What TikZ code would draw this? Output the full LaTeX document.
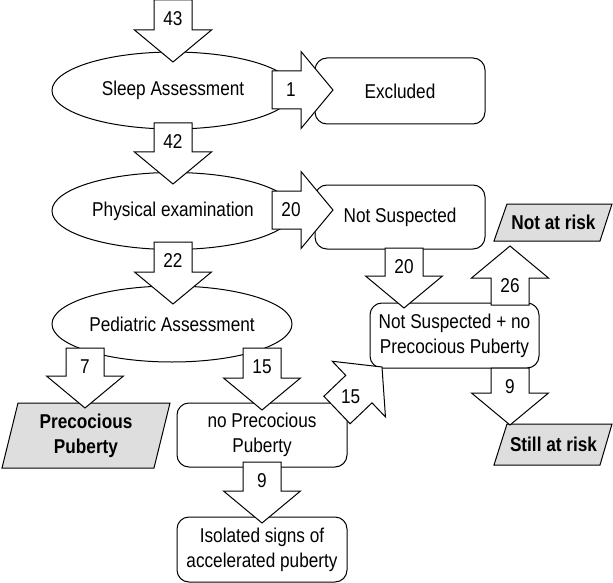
\documentclass[tikz,border=0pt]{standalone}
\usepackage{fontspec}
\setmainfont{Liberation Sans}[FakeStretch=0.86]
\usetikzlibrary{shapes.geometric,calc}
\definecolor{boxgray}{RGB}{222,222,222}
\tikzset{
  txt/.style={font=\fontsize{20}{25}\selectfont, align=center, inner sep=0pt},
  oval/.style={draw, ellipse, line width=1pt, fill=white, minimum width=242pt, minimum height=77pt, inner sep=0pt, font=\fontsize{20}{25}\selectfont},
  rbox/.style={draw, rounded corners=12pt, line width=1pt, fill=white, minimum width=170pt, minimum height=65pt, align=center, inner sep=0pt, font=\fontsize{20}{25}\selectfont},
  outcome/.style={draw, line width=1pt, fill=boxgray, line join=miter},
  outtxt/.style={font=\bfseries\fontsize{20}{25}\selectfont, align=center, inner sep=0pt},
  barrow/.style={draw, line width=1pt, fill=white, line join=miter},
  num/.style={font=\fontsize{20}{24}\selectfont, inner sep=0pt}
}
% #1 start, #2 tip, #3 name prefix, #4 label
\newcommand{\blockarrow}[4]{%
  \coordinate (#3c) at ($(#2)!32pt!(#1)$);
  \draw[barrow] ($(#1)!19pt!90:(#2)$) -- ($(#1)!19pt!-90:(#2)$)
     -- ($(#3c)!19pt!-90:(#2)$) -- ($(#3c)!38.5pt!-90:(#2)$) -- (#2)
     -- ($(#3c)!38.5pt!90:(#2)$) -- ($(#3c)!19pt!90:(#2)$) -- cycle;
  \node[num] (#3l) at ($(#1)!19pt!(#2)$) {#4};
}
\begin{document}
\begin{tikzpicture}[x=1pt,y=-1pt]
\useasboundingbox (0,0) rectangle (613,583);
% ellipses
\node[oval] (e1) at (173,90.5) {Sleep Assessment};
\node[oval] (e2) at (173,211) {Physical examination};
\node[oval, minimum width=240pt, minimum height=76pt] (e3) at (172,324) {Pediatric Assessment};
% rounded boxes
\node[rbox, minimum height=66pt] (excl) at (400,91) {Excluded};
\node[rbox, minimum height=64pt] (ns) at (400,217) {Not Suspected};
\node[rbox, minimum width=169pt] (nsnpp) at (454.5,335.5) {Not Suspected + no\\Precocious Puberty};
\node[rbox, minimum height=64pt] (npp) at (262,435) {no Precocious\\Puberty};
\node[rbox] (iso) at (262,549.5) {Isolated signs of\\accelerated puberty};
% outcome parallelograms
\draw[outcome] (18,403) -- (170,403) -- (154,468) -- (2,468) -- cycle;
\node[outtxt] (pp) at (86,435.5) {Precocious\\Puberty};
\draw[outcome] (507,204) -- (612,204) -- (600,241) -- (494,241) -- cycle;
\node[outtxt] (nar) at (553.5,222.5) {Not at risk};
\draw[outcome] (507,424) -- (612,424) -- (600,465) -- (494,465) -- cycle;
\node[outtxt] (sar) at (553.5,444.5) {Still at risk};
% arrow end points
\coordinate (a43s) at (173,0);   \coordinate (a43t) at (173,62);
\coordinate (a42s) at (173,123); \coordinate (a42t) at (173,184);
\coordinate (a22s) at (173,242); \coordinate (a22t) at (173,304);
\coordinate (a1s) at (272,90);   \coordinate (a1t) at (333,90);
\coordinate (a20s) at (272,210); \coordinate (a20t) at (333,210);
\coordinate (a7s) at (85,348);   \coordinate (a7t) at (85,408);
\coordinate (a15s) at (262,348); \coordinate (a15t) at (262,410);
\coordinate (a9s) at (262,462);  \coordinate (a9t) at (262,523);
\coordinate (ad15s) at (337,410); \coordinate (ad15t) at (382,367);
\coordinate (a20ds) at (404,248); \coordinate (a20dt) at (404,308);
\coordinate (a26s) at (510,305); \coordinate (a26t) at (510,246);
\coordinate (a9rs) at (510,368); \coordinate (a9rt) at (510,425);
% block arrows
\blockarrow{a43s}{a43t}{a43}{43}
\blockarrow{a42s}{a42t}{a42}{42}
\blockarrow{a22s}{a22t}{a22}{22}
\blockarrow{a1s}{a1t}{a1}{1}
\blockarrow{a20s}{a20t}{a20}{20}
\blockarrow{a7s}{a7t}{a7}{7}
\blockarrow{a15s}{a15t}{a15}{15}
\blockarrow{a9s}{a9t}{a9}{9}
\blockarrow{ad15s}{ad15t}{ad15}{15}
\blockarrow{a20ds}{a20dt}{a20d}{20}
\blockarrow{a26s}{a26t}{a26}{26}
\blockarrow{a9rs}{a9rt}{a9r}{9}
\end{tikzpicture}
\end{document}
